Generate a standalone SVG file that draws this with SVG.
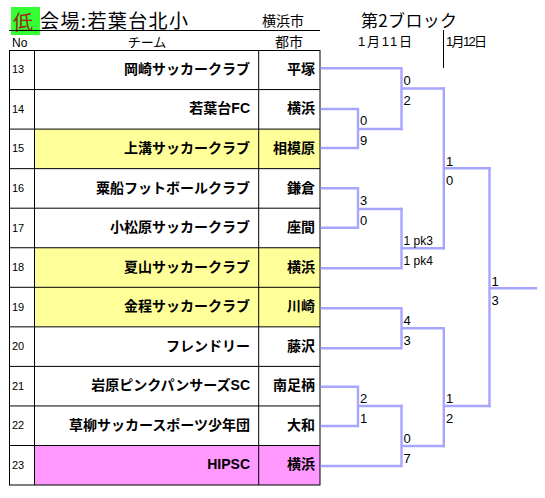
<svg xmlns="http://www.w3.org/2000/svg" width="545" height="498" viewBox="0 0 545 498">
<style>
text{font-family:"Liberation Sans","Noto Sans CJK JP",sans-serif;fill:#000}
.no{font-size:11px}
.tm{font-size:14px;font-weight:bold;text-anchor:end}
.ct{font-size:14px;font-weight:bold;text-anchor:end}
.sc{font-size:13px}
.pk{font-size:12px}
.grid{stroke:#000;stroke-width:1;fill:none}
.br{stroke:#a6a6ff;stroke-width:2.4;fill:none;stroke-linecap:square}
</style>
<rect width="545" height="498" fill="#fff"/>
<g id="header">
<rect x="11" y="7" width="29" height="28" fill="#33ff33"/>
<text x="13" y="30" style="font-size:20px;fill:#a02020;font-family:'Noto Sans CJK JP',sans-serif">低</text>
<text x="40" y="28" style="font-size:19px;font-family:'Noto Sans CJK JP',sans-serif" textLength="148">会場:若葉台北小</text>
<text x="262" y="26" style="font-size:14px;font-family:'Noto Sans CJK JP',sans-serif">横浜市</text>
<line x1="9" y1="30.5" x2="320" y2="30.5" stroke="#000" stroke-width="1.2"/>
<text x="12" y="46.5" style="font-size:12px">No</text>
<text x="147" y="47" style="font-size:13px;text-anchor:middle;font-family:'Noto Sans CJK JP',sans-serif">チーム</text>
<text x="289" y="47" style="font-size:14px;text-anchor:middle;font-family:'Noto Sans CJK JP',sans-serif">都市</text>
<text x="361" y="27" style="font-size:17px;font-family:'Noto Sans CJK JP',sans-serif" textLength="96">第2ブロック</text>
<text x="358" y="46" style="font-size:13px" textLength="54">1月11日</text>
<text x="446" y="46" style="font-size:13px" textLength="41">1月12日</text>
<line x1="443.5" y1="30" x2="443.5" y2="68" stroke="#000" stroke-width="1"/>
</g>
<g id="fills">
<rect x="34.5" y="129.1" width="285.5" height="39.55" fill="#ffff99"/>
<rect x="34.5" y="247.75" width="285.5" height="79.1" fill="#ffff99"/>
<rect x="34.5" y="445.45" width="285.5" height="39.55" fill="#ff99ff"/>
</g>
<g id="table" class="grid">
<rect x="9.5" y="50.5" width="310.5" height="434.5"/>
<line x1="34.5" y1="50" x2="34.5" y2="485"/>
<line x1="258.7" y1="50" x2="258.7" y2="485"/>
<path d="M9 89.55H320M9 129.1H320M9 168.65H320M9 208.2H320M9 247.75H320M9 287.3H320M9 326.85H320M9 366.4H320M9 405.95H320M9 445.5H320"/>
</g>
<g id="row13"><text class="no" x="12" y="73.3">13</text><text class="tm" x="250" y="73.8">岡崎サッカークラブ</text><text class="ct" x="315" y="73.8">平塚</text></g>
<g id="row14"><text class="no" x="12" y="112.9">14</text><text class="tm" x="250" y="113.4">若葉台FC</text><text class="ct" x="315" y="113.4">横浜</text></g>
<g id="row15"><text class="no" x="12" y="152.4">15</text><text class="tm" x="250" y="152.9">上溝サッカークラブ</text><text class="ct" x="315" y="152.9">相模原</text></g>
<g id="row16"><text class="no" x="12" y="192">16</text><text class="tm" x="250" y="192.5">粟船フットボールクラブ</text><text class="ct" x="315" y="192.5">鎌倉</text></g>
<g id="row17"><text class="no" x="12" y="231.5">17</text><text class="tm" x="250" y="232">小松原サッカークラブ</text><text class="ct" x="315" y="232">座間</text></g>
<g id="row18"><text class="no" x="12" y="271.1">18</text><text class="tm" x="250" y="271.6">夏山サッカークラブ</text><text class="ct" x="315" y="271.6">横浜</text></g>
<g id="row19"><text class="no" x="12" y="310.6">19</text><text class="tm" x="250" y="311.1">金程サッカークラブ</text><text class="ct" x="315" y="311.1">川崎</text></g>
<g id="row20"><text class="no" x="12" y="350.2">20</text><text class="tm" x="250" y="350.7">フレンドリー</text><text class="ct" x="315" y="350.7">藤沢</text></g>
<g id="row21"><text class="no" x="12" y="389.7">21</text><text class="tm" x="250" y="390.2">岩原ピンクパンサーズSC</text><text class="ct" x="315" y="390.2">南足柄</text></g>
<g id="row22"><text class="no" x="12" y="429.3">22</text><text class="tm" x="250" y="429.8">草柳サッカースポーツ少年団</text><text class="ct" x="315" y="429.8">大和</text></g>
<g id="row23"><text class="no" x="12" y="468.8">23</text><text class="tm" x="250" y="469.3">HIPSC</text><text class="ct" x="315" y="469.3">横浜</text></g>
<g id="connectors" class="br">
<path d="M322 109H358V148H322M358 129H401.5"/>
<path d="M322 188.3H358V227.7H322M358 209H401.5"/>
<path d="M322 386.7H358V426H322M358 406H401.5"/>
<path d="M322 68.3H401.5V129M401.5 88.5H443.8"/>
<path d="M401.5 209V268.3H322M401.5 248.3H443.8"/>
<path d="M322 308.3H401.5V348.3H322M401.5 328.3H443.8"/>
<path d="M401.5 406V466H322M401.5 446H443.8"/>
<path d="M443.8 88.5V248.3M443.8 168.3H489.5"/>
<path d="M443.8 328.3V446M443.8 406H489.5"/>
<path d="M489.5 168.3V406M489.5 288.3H536"/>
</g>
<g id="scores">
<text class="sc" x="360" y="125">0</text><text class="sc" x="360" y="145">9</text>
<text class="sc" x="360" y="205">3</text><text class="sc" x="360" y="225">0</text>
<text class="sc" x="360" y="403">2</text><text class="sc" x="360" y="423">1</text>
<text class="sc" x="403.5" y="85">0</text><text class="sc" x="403.5" y="105">2</text>
<text class="pk" x="403.5" y="244.5">1 pk3</text><text class="pk" x="403.5" y="264.5">1 pk4</text>
<text class="sc" x="403.5" y="325">4</text><text class="sc" x="403.5" y="345">3</text>
<text class="sc" x="403.5" y="443">0</text><text class="sc" x="403.5" y="463">7</text>
<text class="sc" x="446" y="166">1</text><text class="sc" x="446" y="185">0</text>
<text class="sc" x="446" y="403">1</text><text class="sc" x="446" y="423">2</text>
<text class="sc" x="491.5" y="286">1</text><text class="sc" x="491.5" y="305">3</text>
</g>
</svg>
